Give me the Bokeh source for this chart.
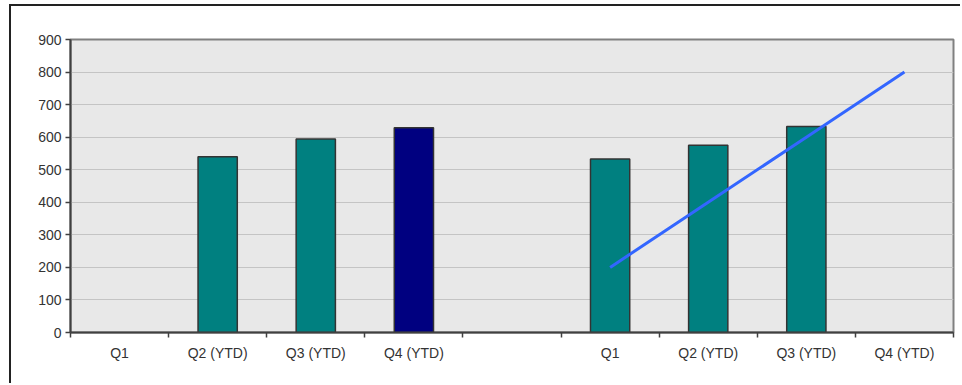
from bokeh.plotting import figure
from bokeh.models import ColumnDataSource, FixedTicker, Range1d
from bokeh.embed import file_html
from bokeh.resources import INLINE

# ---- data ----
categories = ["Q1", "Q2 (YTD)", "Q3 (YTD)", "Q4 (YTD)", "",
              "Q1", "Q2 (YTD)", "Q3 (YTD)", "Q4 (YTD)"]
bar_values = [None, 540, 594, 629, None, 533, 575, 633, None]
bar_colors = ["#008080", "#008080", "#008080", "#000080", "#008080",
              "#008080", "#008080", "#008080", "#008080"]
line_slots = [5, 6, 7, 8]
line_values = [200, 400, 600, 800]
y_ticks = [0, 100, 200, 300, 400, 500, 600, 700, 800, 900]

# ---- build ----
xs, tops, cols = [], [], []
for i, (v, c) in enumerate(zip(bar_values, bar_colors)):
    if v is not None:
        xs.append(i + 0.5)
        tops.append(v)
        cols.append(c)
bars = ColumnDataSource(dict(x=xs, top=tops, color=cols))
line = ColumnDataSource(dict(x=[s + 0.5 for s in line_slots], y=line_values))

p = figure(width=951, height=379, output_backend="svg", toolbar_location=None,
           x_range=Range1d(0, len(categories)), y_range=Range1d(0, 900))
p.min_border_left = 59
p.min_border_top = 33
p.min_border_right = 9
p.min_border_bottom = 53
p.styles = {"border-top": "2px solid #222222", "border-left": "2px solid #222222",
            "margin-left": "9px", "margin-top": "4px"}

p.background_fill_color = "#e8e8e8"
p.border_fill_color = "white"
p.outline_line_color = "#808080"
p.outline_line_width = 2

p.vbar(x="x", top="top", width=0.4, bottom=0, fill_color="color",
       line_color="#333333", line_width=1.5, source=bars)
p.line(x="x", y="y", line_color="#3366ff", line_width=3, source=line)

# grid
p.xgrid.visible = False
p.ygrid.ticker = FixedTicker(ticks=y_ticks)
p.ygrid.grid_line_color = "#c4c4c4"
p.ygrid.grid_line_width = 1

# x axis
xa = p.xaxis[0]
xa.ticker = FixedTicker(ticks=[i + 0.5 for i in range(len(categories))],
                        minor_ticks=list(range(len(categories) + 1)))
xa.major_label_overrides = {i + 0.5: c for i, c in enumerate(categories)}
xa.major_tick_out = 0
xa.major_tick_in = 0
xa.minor_tick_out = 5
xa.minor_tick_in = 0
xa.minor_tick_line_color = "#404040"
xa.minor_tick_line_width = 1.5
xa.major_label_standoff = 7
xa.axis_line_color = "#404040"
xa.axis_line_width = 2

# y axis
ya = p.yaxis[0]
ya.ticker = FixedTicker(ticks=y_ticks)
ya.major_tick_out = 5
ya.major_tick_in = 0
ya.minor_tick_line_color = None
ya.major_tick_line_color = "#404040"
ya.major_tick_line_width = 1.5
ya.major_label_standoff = 4
ya.axis_line_color = "#404040"
ya.axis_line_width = 2

for ax in (xa, ya):
    ax.major_label_text_font = "Liberation Sans"
    ax.major_label_text_font_size = "14px"
    ax.major_label_text_color = "#333333"

open("out.html", "w").write(file_html(p, INLINE))
